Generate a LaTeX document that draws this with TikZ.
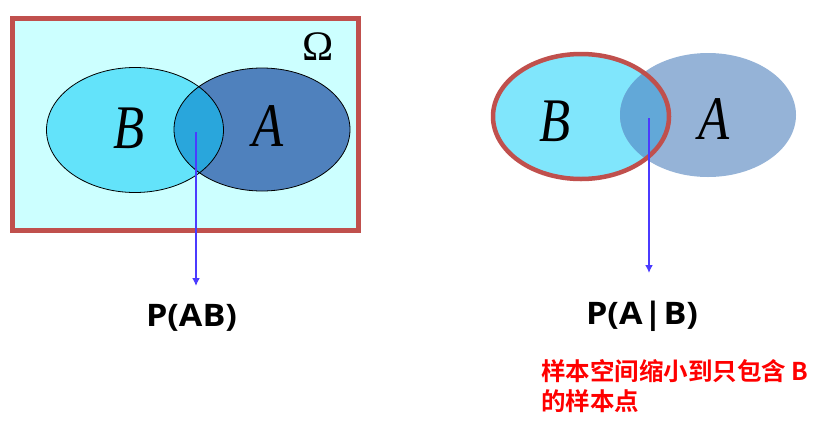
\documentclass[tikz,border=0pt]{standalone}
\usepackage{fontspec}
\setmainfont{Liberation Serif}
\newfontfamily\latbold{Open Sans}[BoldFont={Open Sans Bold}]
\newfontfamily\cjkbold{Noto Sans CJK SC Bold}
\definecolor{omegabg}{HTML}{CCFFFF}
\definecolor{frame}{HTML}{C0504D}
\definecolor{bleft}{HTML}{63E3FA}
\definecolor{aleft}{HTML}{4F81BD}
\definecolor{ileft}{HTML}{29A6DC}
\definecolor{bright}{HTML}{80E6FC}
\definecolor{aright}{HTML}{95B3D7}
\definecolor{iright}{HTML}{62A8D8}
\definecolor{arrowc}{HTML}{4B3BFF}
\begin{document}
\begin{tikzpicture}[x=1pt,y=-1pt,
  setlabel/.style={font=\fontsize{62}{62}\selectfont\itshape, xscale=0.82, inner sep=0pt},
  prob/.style={font=\latbold\bfseries\fontsize{31}{31}\selectfont, xscale=1.1, inner sep=0pt},
  note/.style={font=\cjkbold\fontsize{24.5}{30}\selectfont, text=red, align=left, inner sep=0pt, anchor=west},
  pointer/.style={draw=arrowc, line width=2.2pt, -{Latex[length=8pt,width=8pt]}}]
\usetikzlibrary{arrows.meta}
\useasboundingbox (0,0) rectangle (822,432);
% ---- left diagram ----
\path[fill=omegabg, draw=frame, line width=5pt] (12,18) rectangle (358,230);
\fill[bleft] (135,130) ellipse [x radius=88.5, y radius=62.5];
\fill[aleft] (262,129.5) ellipse [x radius=88, y radius=61.5];
\begin{scope}
  \clip (135,130) ellipse [x radius=88.5, y radius=62.5];
  \fill[ileft] (262,129.5) ellipse [x radius=88, y radius=61.5];
\end{scope}
\draw[line width=0.8pt] (135,130) ellipse [x radius=88.5, y radius=62.5];
\draw[line width=0.8pt] (262,129.5) ellipse [x radius=88, y radius=61.5];
\node[setlabel] (lB) at (129,128) {B};
\node[setlabel] (lA) at (268,126) {A};
\node[font=\fontsize{42}{42}\selectfont, inner sep=0pt] (omega) at (318,47) {Ω};
\coordinate (ls) at (196,132);
\coordinate (le) at (196,286);
\draw[pointer] (ls) -- (le);
\node[prob] (pab) at (191.5,318) {P(AB)};
% ---- right diagram ----
\fill[bright] (581,116.5) ellipse [x radius=88, y radius=62.5];
\fill[aright] (708,115) ellipse [x radius=88, y radius=62];
\begin{scope}
  \clip (581,116.5) ellipse [x radius=88, y radius=62.5];
  \fill[iright] (708,115) ellipse [x radius=88, y radius=62];
\end{scope}
\draw[frame, line width=4.5pt] (581,116.5) ellipse [x radius=88, y radius=62.5];
\node[setlabel] (rB) at (555,121) {B};
\node[setlabel] (rA) at (714,119) {A};
\coordinate (rs) at (649,118);
\coordinate (re) at (649,273);
\draw[pointer] (rs) -- (re);
\node[prob] (pab2) at (642,316.5) {P(A\kern1pt|\kern1ptB)};
\node[note] (n1) at (541,371) {样本空间缩小到只包含 B};
\node[note] (n2) at (541,401) {的样本点};
\end{tikzpicture}
\end{document}
